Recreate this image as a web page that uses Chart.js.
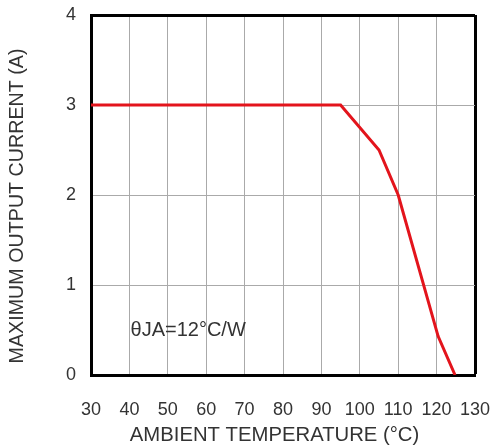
<!DOCTYPE html>
<html>
<head>
<meta charset="utf-8">
<script src="https://cdn.jsdelivr.net/npm/chart.js@4/dist/chart.umd.min.js"></script>
<style>
  html, body { margin: 0; padding: 0; background: #fff; }
  #wrap { width: 493px; height: 448px; }
</style>
</head>
<body>
<div id="wrap"><canvas id="chart"></canvas></div>
<script>
// derating curve
const temperatures = [30, 95, 105, 110, 120.4, 124.8];
const currents = [3, 3, 2.5, 2, 0.43, 0];
const xTicks = [30, 40, 50, 60, 70, 80, 90, 100, 110, 120, 130];
const yTicks = [0, 1, 2, 3, 4];
const noteText = "θJA=12°C/W";
const notePos = [55.3, 0.5];

const FONT = "'Liberation Sans', Arial, sans-serif";
const points = temperatures.map((t, i) => ({ x: t, y: currents[i] }));

// note written inside the plot at a data position
const notePlugin = {
    id: "note",
    afterDatasetsDraw(chart) {
        const ctx = chart.ctx;
        const x = chart.scales.x.getPixelForValue(notePos[0]);
        const y = chart.scales.y.getPixelForValue(notePos[1]);
        ctx.save();
        ctx.fillStyle = "#333";
        ctx.font = "20px " + FONT;
        ctx.textAlign = "center";
        ctx.textBaseline = "middle";
        ctx.fillText(noteText, x, y);
        ctx.restore();
    }
};

new Chart(document.getElementById("chart"), {
    type: "line",
    data: {
        datasets: [{
            data: points,
            borderColor: "#e3141c",
            borderWidth: 3,
            pointRadius: 0,
            tension: 0
        }]
    },
    options: {
        responsive: true,
        maintainAspectRatio: false,
        animation: false,
        layout: { padding: { top: 0, right: 18, left: 0, bottom: 0 } },
        plugins: { legend: { display: false }, tooltip: { enabled: false } },
        scales: {
            x: {
                type: "linear",
                min: 30,
                max: 130,
                afterBuildTicks: axis => { axis.ticks = xTicks.map(v => ({ value: v })); },
                afterFit: axis => {
                    axis.height = 73;
                    axis.paddingLeft = 0;
                    axis.paddingRight = 0;
                },
                ticks: {
                    color: "#333",
                    font: { family: FONT, size: 18 },
                    padding: 24,
                    maxRotation: 0
                },
                grid: {
                    color: c => c.tick && c.tick.value === 130 ? "#000" : "#aaa",
                    lineWidth: c => c.tick && c.tick.value === 130 ? 3 : 1,
                    drawTicks: false
                },
                border: { color: "#000", width: 3 },
                title: {
                    display: true,
                    // trailing spaces nudge the centred title left like the original
                    text: "AMBIENT TEMPERATURE (°C)   ",
                    color: "#333",
                    font: { family: FONT, size: 20.3 },
                    padding: { top: 0, bottom: 0 }
                }
            },
            y: {
                type: "linear",
                min: 0,
                max: 4,
                afterBuildTicks: axis => { axis.ticks = yTicks.map(v => ({ value: v })); },
                afterFit: axis => {
                    axis.width = 91;
                    axis.paddingTop = 15;
                    axis.paddingBottom = 0;
                },
                ticks: {
                    color: "#333",
                    font: { family: FONT, size: 18 },
                    padding: 15
                },
                grid: {
                    color: c => c.tick && c.tick.value === 4 ? "#000" : "#aaa",
                    lineWidth: c => c.tick && c.tick.value === 4 ? 3 : 1,
                    drawTicks: false
                },
                border: { color: "#000", width: 3 },
                title: {
                    display: true,
                    // trailing spaces push the rotated title a little lower
                    text: "MAXIMUM OUTPUT CURRENT (A)    ",
                    color: "#333",
                    font: { family: FONT, size: 19.7 },
                    padding: { top: 6, bottom: 0 }
                }
            }
        }
    },
    plugins: [notePlugin]
});
</script>
</body>
</html>
